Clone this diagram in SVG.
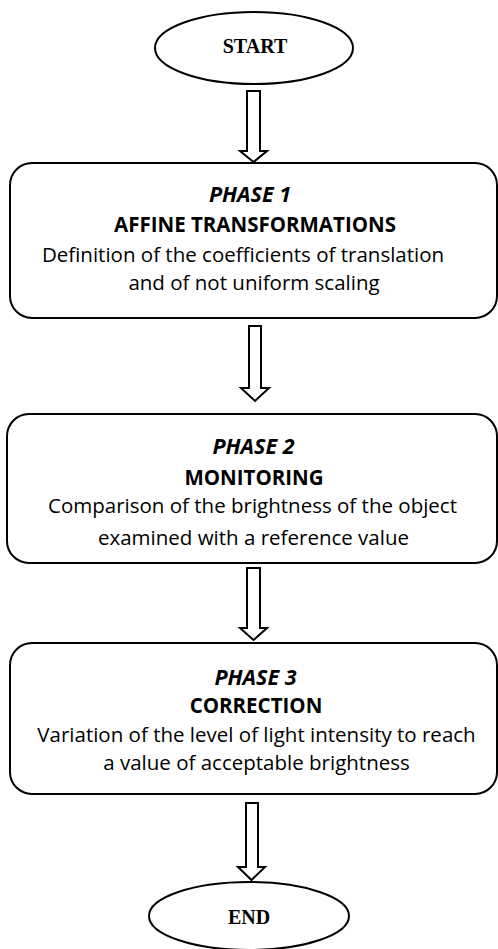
<svg xmlns="http://www.w3.org/2000/svg" width="498" height="949" viewBox="0 0 498 949">
<style>
.sh{fill:#fff;stroke:#000;stroke-width:2}
.term{font-family:"Liberation Serif","Times New Roman",serif;font-weight:bold;font-size:20px;text-anchor:middle;fill:#000}
.ph{font-family:"Open Sans","Noto Sans",sans-serif;font-weight:bold;font-style:italic;font-size:21.5px;text-anchor:middle;fill:#000}
.ti{font-family:"Open Sans","Noto Sans",sans-serif;font-weight:bold;font-size:20.5px;text-anchor:middle;fill:#000}
.tx{font-family:"Open Sans","Noto Sans",sans-serif;font-size:20.5px;text-anchor:middle;fill:#000}
.ar{fill:#fff;stroke:#000;stroke-width:2;stroke-linejoin:miter}
</style>
<rect width="498" height="949" fill="#fff"/>
<g id="connectors">
<path class="ar" d="M247,91 H260 V151 H267 L253.5,162 L240,151 H247 Z"/>
<path class="ar" d="M249,326 H261 V388 H269 L255,401 L241,388 H249 Z"/>
<path class="ar" d="M247,568 H260 V628 H267 L253.5,640 L240,628 H247 Z"/>
<path class="ar" d="M246,803 H258 V867 H265 L251.5,880 L238,867 H246 Z"/>
</g>
<g id="start">
<ellipse class="sh" cx="254" cy="48" rx="99" ry="36"/>
<text class="term" x="255" y="53">START</text>
</g>
<g id="phase1">
<rect class="sh" x="10" y="163" width="487" height="155" rx="22"/>
<text class="ph" x="250" y="202">PHASE 1</text>
<text class="ti" x="255" y="232">AFFINE TRANSFORMATIONS</text>
<text class="tx" x="243" y="262">Definition of the coefficients of translation</text>
<text class="tx" x="254" y="290">and of not uniform scaling</text>
</g>
<g id="phase2">
<rect class="sh" x="7" y="414" width="490" height="149" rx="22"/>
<text class="ph" x="253.5" y="454">PHASE 2</text>
<text class="ti" x="254" y="485">MONITORING</text>
<text class="tx" x="252.5" y="513">Comparison of the brightness of the object</text>
<text class="tx" x="253.5" y="545">examined with a reference value</text>
</g>
<g id="phase3">
<rect class="sh" x="10" y="643" width="487" height="151" rx="22"/>
<text class="ph" x="255.5" y="685">PHASE 3</text>
<text class="ti" x="256" y="713">CORRECTION</text>
<text class="tx" x="256.5" y="742">Variation of the level of light intensity to reach</text>
<text class="tx" x="256.5" y="770">a value of acceptable brightness</text>
</g>
<g id="end">
<ellipse class="sh" cx="249" cy="916" rx="100" ry="34"/>
<text class="term" x="249" y="924">END</text>
</g>
</svg>
